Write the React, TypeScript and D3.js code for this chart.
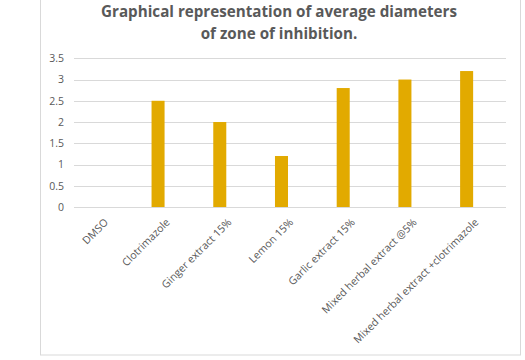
import * as d3 from "d3";
import React, { useRef, useEffect } from "react";

const categories = [
  "DMSO",
  "Clotrimazole",
  "Ginger extract 15%",
  "Lemon 15%",
  "Garlic extract 15%",
  "Mixed herbal extract @5%",
  "Mixed herbal extract +clotrimazole",
];
const diameters = [0, 2.5, 2.0, 1.2, 2.8, 3.0, 3.2];
const seriesSlots = ["diameter", "spare"];
const yTicks = [0, 0.5, 1, 1.5, 2, 2.5, 3, 3.5];
const titleLines = [
  "Graphical representation of average diameters",
  "of zone of inhibition.",
];

function App() {
  const svgRef = useRef<SVGSVGElement>(null);

  useEffect(() => {
    const w = 525;
    const h = 360;
    const svg = d3.select(svgRef.current)
      .attr("width", w)
      .attr("height", h)
      .style("position", "absolute")
      .style("left", "0px")
      .style("top", "0px")
      .style("font-family", "'Open Sans', sans-serif");
    svg.selectAll("*").remove();

    // chart frame
    svg.append("rect")
      .attr("x", 40.5)
      .attr("y", -5)
      .attr("width", 480)
      .attr("height", 360)
      .attr("fill", "#fff")
      .attr("stroke", "#d9d9d9");

    // title
    svg.append("g")
      .selectAll("text")
      .data(titleLines)
      .join("text")
        .attr("x", 279)
        .attr("y", (d, i) => 17 + i * 21.5)
        .attr("text-anchor", "middle")
        .attr("font-size", 15.2)
        .attr("font-weight", "bold")
        .attr("fill", "#595959")
        .text(d => d);

    // scales
    const x = d3.scaleBand()
      .domain(categories)
      .range([74, 506]);

    const xInner = d3.scaleBand()
      .domain(seriesSlots)
      .range([0, x.bandwidth()])
      .paddingInner(0.235)
      .paddingOuter(0.93);

    const y = d3.scaleLinear()
      .domain([0, 3.5])
      .range([207, 58.3]);

    // gridlines
    svg.append("g")
      .selectAll("line")
      .data(yTicks)
      .join("line")
        .attr("x1", 74)
        .attr("x2", 506)
        .attr("y1", d => Math.round(y(d)) + 0.5)
        .attr("y2", d => Math.round(y(d)) + 0.5)
        .attr("stroke", "#d9d9d9")
        .attr("stroke-width", 1);

    // y axis labels
    const yAxis = d3.axisLeft(y)
      .tickValues(yTicks)
      .tickFormat(d => String(d))
      .tickSize(0)
      .tickPadding(0);

    const gy = svg.append("g")
      .attr("transform", "translate(64,0)")
      .call(yAxis);
    gy.select(".domain").remove();
    gy.selectAll("text")
      .attr("font-family", "'Open Sans', sans-serif")
      .attr("font-size", 10.5)
      .attr("fill", "#595959");

    // bars
    svg.append("g")
      .selectAll("rect")
      .data(diameters)
      .join("rect")
        .attr("x", (d, i) => (x(categories[i]) as number) + (xInner("diameter") as number))
        .attr("y", d => y(d))
        .attr("width", xInner.bandwidth())
        .attr("height", d => y(0) - y(d))
        .attr("fill", "#E2AA00");

    // x axis labels
    const xAxis = d3.axisBottom(x)
      .tickSize(0)
      .tickPadding(0);

    const gx = svg.append("g")
      .attr("transform", "translate(0,207)")
      .call(xAxis);
    gx.select(".domain").remove();
    gx.selectAll("text")
      .attr("font-family", "'Open Sans', sans-serif")
      .attr("font-size", 10.6)
      .attr("fill", "#595959")
      .attr("text-anchor", "end")
      .attr("dy", null)
      .attr("y", 0)
      .attr("transform", "translate(4,16) rotate(-45)");
  }, []);

  return (
    <div className="ZoneChart">
      <svg ref={svgRef}></svg>
    </div>
  );
}

export default App;
